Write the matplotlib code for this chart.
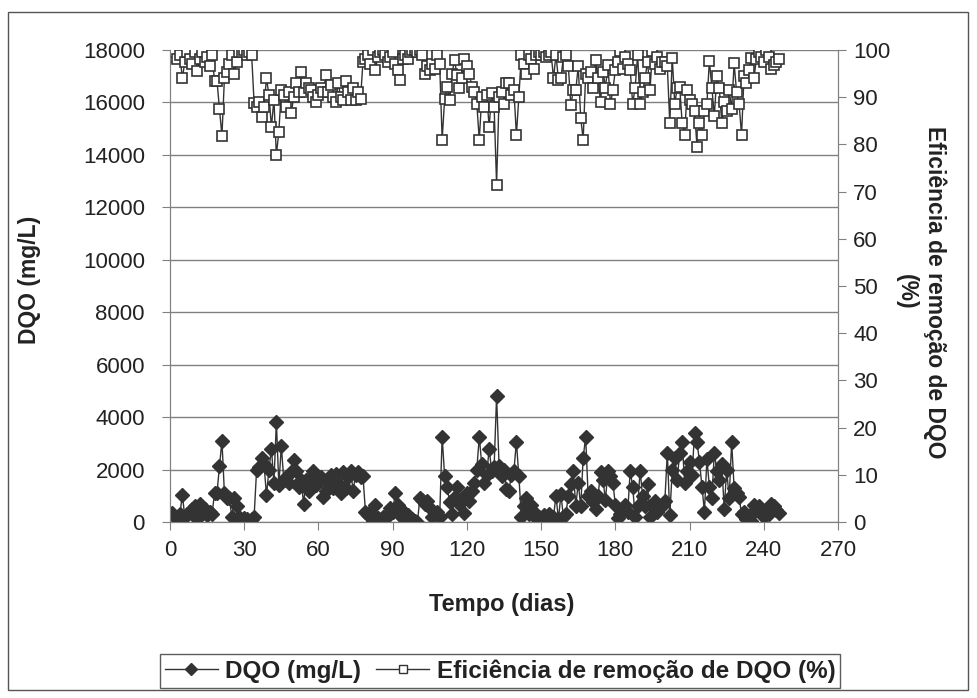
import matplotlib
matplotlib.use("Agg")
import matplotlib.pyplot as plt
from matplotlib.lines import Line2D
from matplotlib.patches import Rectangle

plt.rcParams['font.family'] = ['Liberation Sans', 'DejaVu Sans']

# days of operation
dias = list(range(1, 247))

# DQO (mg/L)
dqo = [350, 200, 100, 300, 1030, 200, 300, 400, 500, 600,
       100, 700, 350, 500, 250, 400, 300, 1100, 1100, 2130,
       3090, 1100, 900, 900, 200, 900, 600, 200, 50, 150,
       100, 50, 100, 200, 1980, 2100, 2450, 2200, 1030, 2000,
       2800, 1500, 3830, 1400, 2900, 1600, 1700, 1500, 1900, 2350,
       1950, 1350, 1600, 700, 1600, 1200, 1700, 1950, 1400, 1600,
       1700, 950, 1200, 1500, 1800, 1300, 1850, 1500, 1100, 1900,
       1300, 1700, 1950, 1200, 1800, 1900, 1700, 1750, 400, 250,
       400, 50, 650, 150, 0, 200, 100, 300, 550, 400,
       1100, 650, 250, 150, 350, 250, 150, 100, 50, 10,
       900, 850, 700, 800, 550, 200, 300, 400, 200, 3250,
       1750, 1350, 750, 300, 950, 1350, 700, 900, 350, 1100,
       800, 1200, 1500, 2000, 3250, 2200, 1500, 1800, 2800, 1950,
       2100, 4800, 2150, 1750, 2000, 1250, 1200, 1800, 1950, 3060,
       1750, 200, 600, 900, 300, 650, 400, 150, 200, 100,
       250, 150, 300, 100, 200, 1000, 100, 1050, 200, 300,
       1000, 1450, 1950, 600, 1500, 600, 2450, 3250, 1000, 1200,
       750, 500, 1000, 1900, 1600, 850, 1950, 1750, 1500, 650,
       150, 300, 500, 650, 400, 1950, 1350, 200, 600, 1950,
       1000, 600, 1450, 200, 650, 800, 400, 600, 600, 800,
       2650, 250, 2000, 2450, 1600, 2650, 3050, 1500, 1950, 2300,
       1800, 3400, 3050, 2300, 1350, 400, 2400, 1350, 900, 2650,
       1950, 1600, 2200, 500, 2000, 900, 3050, 1300, 1100, 950,
       300, 400, 100, 200, 50, 650, 500, 600, 350, 200,
       450, 300, 700, 600, 450, 350]

# removal efficiency (%)
eficiencia = [98.5, 99.5, 98, 99, 94, 97.5, 99.5, 98, 97, 99.5,
              95.5, 98, 99.5, 97.5, 98.5, 96.5, 99, 93.5, 93.5, 87.5,
              81.8, 94, 95.4, 97, 99, 94.9, 97.5, 99.5, 99.5, 100,
              99, 99.5, 99, 88.8, 88, 89, 85.9, 88, 94, 90.5,
              83.7, 89.5, 77.8, 82.7, 91.5, 90.5, 88, 91, 86.6, 90,
              93, 91, 95.4, 91, 93, 92, 91.5, 90, 89, 90.5,
              92, 91, 94.7, 91, 92.5, 90, 89, 93, 90, 89.5,
              93.5, 91, 89.5, 92, 89.5, 91, 89.6, 97.5, 98, 99,
              97, 100, 95.8, 98.5, 99.5, 100, 99, 97.5, 98.6, 99.5,
              97, 95.8, 93.6, 98, 99, 98, 99.5, 100, 100, 99.5,
              100, 99, 95, 96.5, 95.8, 97, 96, 99, 97, 81,
              89.6, 92.2, 89.5, 95, 97.9, 94.7, 92, 94, 98, 96.6,
              95, 92.2, 91, 88.6, 81, 90, 88, 90.5, 83.7, 90.8,
              88, 71.5, 90, 91, 88.5, 93, 93, 90.5, 91.5, 82,
              90, 99, 97, 95, 99, 98, 96, 99, 99.5, 99,
              99.5, 98.5, 99, 99.5, 94, 99, 93.6, 94, 98.5, 99,
              96.5, 88.3, 91.5, 91.5, 96.5, 85.6, 81, 95, 94, 95.3,
              92, 97.9, 94, 89, 95.4, 92, 96.8, 88.6, 91.5, 95.8,
              97.5, 99.7, 96, 98.5, 97, 95.8, 88.6, 92, 99, 88.6,
              91, 94, 97.5, 91.5, 99.7, 97, 98.5, 96, 97.5, 97.4,
              96.6, 84.5, 98.4, 88.6, 92, 92.2, 84.5, 82, 91.5, 89.5,
              88.6, 87, 79.5, 84.5, 82, 87, 88.6, 97.7, 92, 86,
              94.5, 92, 84.5, 89, 87, 91.5, 87.5, 97.2, 91, 88.6,
              82, 94.5, 93, 95.8, 98.4, 94, 98, 99.6, 98.5, 97.5,
              100, 98.5, 96, 96.8, 97.5, 98]

fig = plt.figure(figsize=(9.78, 6.98), dpi=100)
# outer chart frame
fig.patches.append(Rectangle((0.0082, 0.0115), 0.9816, 0.9713, transform=fig.transFigure,
                             fill=False, edgecolor='#555555', linewidth=1))

ax = fig.add_axes([0.1738, 0.2521, 0.6831, 0.6763])
ax2 = ax.twinx()

ax.plot(dias, dqo, color='#333333', linewidth=1, marker='D', markersize=7.5,
        markerfacecolor='#333333', markeredgecolor='#333333', zorder=3)
ax2.plot(dias, eficiencia, color='#333333', linewidth=1, marker='s', markersize=7,
         markerfacecolor='white', markeredgecolor='#333333', markeredgewidth=1.2)

ax.set_xlim(0, 270)
ax.set_ylim(0, 18000)
ax2.set_ylim(0, 100)
ax.set_xticks(range(0, 271, 30))
ax.set_yticks(range(0, 18001, 2000))
ax2.set_yticks(range(0, 101, 10))
ax.yaxis.grid(True, color='#808080', linewidth=1)
ax.set_axisbelow(True)

for a in (ax, ax2):
    for s in a.spines.values():
        s.set_color('#808080')
    a.spines['top'].set_visible(False)
    a.tick_params(labelsize=16, color='#808080', length=6, direction='out',
                  labelcolor='#222222')
ax.tick_params(axis='y', pad=12)
ax.tick_params(axis='x', pad=7)
ax2.tick_params(axis='y', pad=5)

fig.text(502 / 978, 1 - 605 / 698, 'Tempo (dias)', fontsize=17, fontweight='bold',
         ha='center', va='center', color='#222222')
fig.text(30 / 978, 1 - 280 / 698, 'DQO (mg/L)', fontsize=16.5, fontweight='bold',
         ha='center', va='center', rotation=90, color='#222222')
fig.text(921 / 978, 1 - 292 / 698, 'Eficiência de remoção de DQO\n(%)', fontsize=16.5,
         fontweight='bold', ha='center', va='center', rotation=-90, linespacing=1.3,
         multialignment='center', color='#222222')

handles = [Line2D([], [], color='#333333', linewidth=1, marker='D', markersize=6,
                  markerfacecolor='#333333'),
           Line2D([], [], color='#333333', linewidth=1, marker='s', markersize=6,
                  markerfacecolor='white')]
leg = fig.legend(handles, ['DQO (mg/L)', 'Eficiência de remoção de DQO (%)'],
                 loc='center', bbox_to_anchor=(500 / 978, 1 - 671 / 698), ncol=2,
                 frameon=True, fancybox=False, handlelength=2.2, handletextpad=0.3,
                 columnspacing=0.6, borderpad=0.2, prop={'size': 17.5, 'weight': 'bold'})
leg.get_frame().set_edgecolor('#333333')
leg.get_frame().set_linewidth(1)
for t in leg.get_texts():
    t.set_color('#222222')

fig.savefig('out.png', dpi=100)
